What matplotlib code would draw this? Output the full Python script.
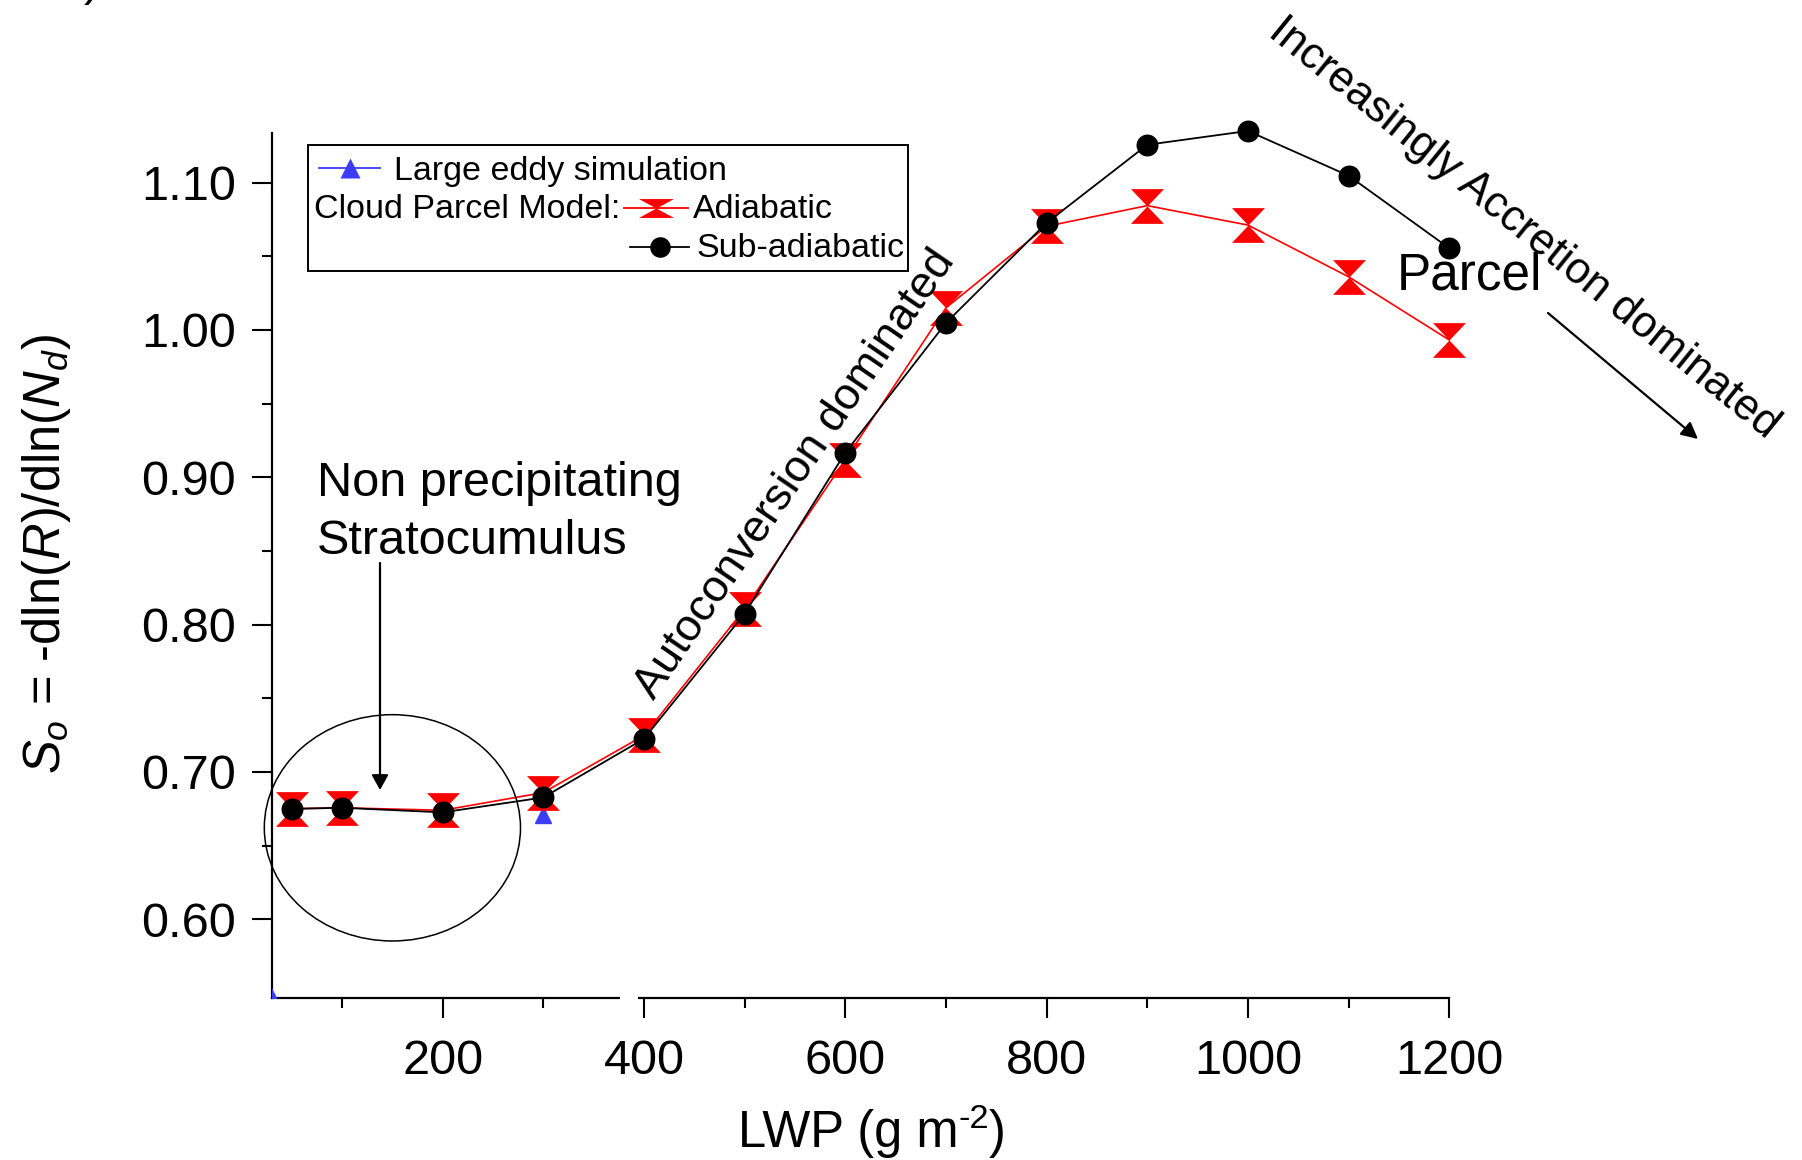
import matplotlib
matplotlib.use("Agg")
import matplotlib.pyplot as plt
import matplotlib.transforms as mtransforms
from matplotlib.path import Path
from matplotlib.lines import Line2D
from matplotlib.patches import Rectangle, Ellipse, FancyArrowPatch

plt.rcParams['font.family'] = ['Liberation Sans', 'DejaVu Sans']
plt.rcParams['mathtext.fontset'] = 'custom'
plt.rcParams['mathtext.rm'] = 'Liberation Sans'
plt.rcParams['mathtext.it'] = 'Liberation Sans:italic'
plt.rcParams['mathtext.bf'] = 'Liberation Sans:bold'

# ---- data -------------------------------------------------------------
lwp = [50, 100, 200, 300, 400, 500, 600, 700, 800, 900, 1000, 1100, 1200]
so_adiabatic = [0.675, 0.6757, 0.674, 0.686, 0.7248, 0.8106, 0.912,
                1.015, 1.0704, 1.0844, 1.0712, 1.0361, 0.9932]
so_subadiabatic = [0.675, 0.6757, 0.6726, 0.6827, 0.7225, 0.8075, 0.9167,
                   1.0048, 1.0727, 1.1257, 1.1351, 1.1047, 1.0555]
les_lwp = [27, 300]
so_les = [0.552, 0.671]

x_major = [200, 400, 600, 800, 1000, 1200]
x_minor = [100, 300, 500, 700, 900, 1100]
y_major = [0.60, 0.70, 0.80, 0.90, 1.00, 1.10]
y_minor = [0.65, 0.75, 0.85, 0.95, 1.05]

W, H, DPI = 1802, 1160, 100
fig = plt.figure(figsize=(W / DPI, H / DPI), dpi=DPI)


def fx(px):
    return px / W


def fy(py):
    return 1 - py / H


# axes frame in pixel units
L, R, T, B = 271.5, 1449.3, 133.0, 997.7
ax = fig.add_axes([fx(L), fy(B), (R - L) / W, (B - T) / H])
ax.set_xlim(30, 1200)
ax.set_ylim(0.5468, 1.1337)

for s in ('top', 'right'):
    ax.spines[s].set_visible(False)
for s in ('left', 'bottom'):
    ax.spines[s].set_linewidth(1.6)

ax.set_xticks(x_major)
ax.set_xticks(x_minor, minor=True)
ax.set_yticks(y_major)
ax.set_yticks(y_minor, minor=True)
ax.set_yticklabels([f"{v:.2f}" for v in y_major])
ax.tick_params(which='major', direction='out', length=14.4, width=1.5,
               labelsize=35)
ax.tick_params(which='minor', direction='out', length=7.2, width=1.5)
ax.tick_params(axis='x', which='major', pad=15.5)
ax.tick_params(axis='y', which='major', pad=11)


def hourglass_path(half_w, half_h):
    return Path(
        [(-half_w, half_h), (half_w, half_h), (0, 0), (-half_w, half_h),
         (-half_w, -half_h), (half_w, -half_h), (0, 0), (-half_w, -half_h)],
        [Path.MOVETO, Path.LINETO, Path.LINETO, Path.CLOSEPOLY,
         Path.MOVETO, Path.LINETO, Path.LINETO, Path.CLOSEPOLY])


hourglass = hourglass_path(0.95, 1.0)
hourglass_flat = hourglass_path(1.0, 0.54)

blue = '#3c3cff'
ax.plot(les_lwp, so_les, linestyle='none', marker='^', ms=11.3,
        color=blue, mec=blue, zorder=3)
ax.plot(lwp, so_adiabatic, '-', color='red', lw=1.2, marker=hourglass,
        ms=25, mfc='red', mec='none', zorder=4, clip_on=False)
ax.plot(lwp, so_subadiabatic, '-', color='black', lw=1.3, marker='o',
        ms=14.8, mfc='black', mec='black', zorder=5, clip_on=False)

# break in the bottom axis line
trans = mtransforms.blended_transform_factory(ax.transData, ax.transAxes)
ax.add_patch(Rectangle((376, -0.012), 18, 0.024, transform=trans,
                       facecolor='white', edgecolor='none', zorder=6,
                       clip_on=False))

# non-precipitating region
ax.add_patch(Ellipse((150.1, 0.6621), 254.5, 0.1536, fill=False,
                     edgecolor='black', lw=1.1, clip_on=False, zorder=6))
fig.text(fx(317), fy(496), 'Non precipitating', fontsize=35,
         ha='left', va='baseline')
fig.text(fx(317), fy(554), 'Stratocumulus', fontsize=35,
         ha='left', va='baseline')
fig.add_artist(FancyArrowPatch((fx(380), fy(563)), (fx(380), fy(790)),
                               transform=fig.transFigure,
                               arrowstyle='-|>,head_length=9,head_width=5',
                               lw=1.6, color='black', shrinkA=0, shrinkB=0))

# regime labels
fig.text(fx(795), fy(474), 'Autoconversion dominated', fontsize=32.5,
         rotation=55.6, rotation_mode='anchor', ha='center', va='center')
fig.text(fx(1524), fy(228), 'Increasingly Accretion dominated',
         fontsize=31.5, rotation=-39, rotation_mode='anchor',
         ha='center', va='center')
fig.text(fx(1397), fy(290), 'Parcel', fontsize=37, ha='left', va='baseline')
fig.add_artist(FancyArrowPatch((fx(1548), fy(313)), (fx(1698), fy(439)),
                               transform=fig.transFigure,
                               arrowstyle='-|>,head_length=10,head_width=5',
                               lw=1.6, color='black', shrinkA=0, shrinkB=0))

# y title
fig.text(fx(47), fy(554), r'$S_o$ = -dln($R$)/dln($N_d$)', fontsize=36.5,
         rotation=90, ha='center', va='center')

# x title, built from pieces so the exponent uses a plain hyphen
renderer = fig.canvas.get_renderer()
xl_fs = 36.5
parts = [('LWP (g m', xl_fs, 0), ('-2', xl_fs * 0.68, 19), (')', xl_fs, 0)]
widths = []
for txt, fs, _ in parts:
    t = fig.text(0, 0, txt, fontsize=fs)
    widths.append(t.get_window_extent(renderer).width)
    t.remove()
x_cur = 872 - sum(widths) / 2
for (txt, fs, rise), w in zip(parts, widths):
    fig.text(fx(x_cur), fy(1147 - rise), txt, fontsize=fs,
             ha='left', va='baseline')
    x_cur += w

# panel tag, mostly above the canvas
fig.text(fx(84), fy(-5), ')', fontsize=35, ha='left', va='baseline')

# legend block
fig.add_artist(Rectangle((fx(308), fy(271)), (908 - 308) / W,
                         (271 - 145) / H, transform=fig.transFigure,
                         fill=False, edgecolor='black', lw=1.4))


def handle(x0, x1, y, color, marker, ms):
    fig.add_artist(Line2D([fx(x0), fx(x1)], [fy(y), fy(y)],
                          transform=fig.transFigure, color=color, lw=1.3))
    fig.add_artist(Line2D([fx((x0 + x1) / 2)], [fy(y)],
                          transform=fig.transFigure, color=color,
                          marker=marker, ms=ms, mec='none', mfc=color,
                          linestyle='none'))


leg_fs = 24.5
handle(319, 380, 168.5, blue, '^', 14.5)
fig.text(fx(394), fy(180), 'Large eddy simulation', fontsize=leg_fs,
         ha='left', va='baseline')
fig.text(fx(314), fy(218.3), 'Cloud Parcel Model:', fontsize=leg_fs,
         ha='left', va='baseline')
handle(624, 688, 208, 'red', hourglass_flat, 25.2)
fig.text(fx(693), fy(218.3), 'Adiabatic', fontsize=leg_fs,
         ha='left', va='baseline')
handle(630, 689, 247, 'black', 'o', 14.8)
fig.text(fx(696), fy(256.7), 'Sub-adiabatic', fontsize=leg_fs,
         ha='left', va='baseline')

fig.savefig('out.png', dpi=DPI)
